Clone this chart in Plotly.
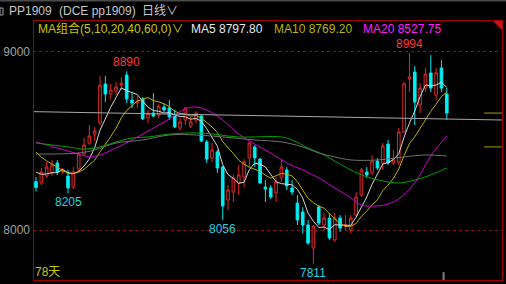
import plotly.graph_objects as go

W, H = 506, 284

# ---------------- data ----------------
opens = [8271, 8264, 8303, 8320, 8376, 8325, 8303, 8241, 8342, 8426,
         8488, 8538, 8600, 8819, 8763, 8780, 8813, 8869, 8729, 8712,
         8735, 8628, 8656, 8645, 8690, 8684, 8639, 8572, 8617, 8583,
         8617, 8639, 8494, 8404, 8438, 8353, 8168, 8213, 8264, 8297,
         8404, 8466, 8398, 8241, 8236, 8208, 8292, 8337, 8236, 8151,
         8101, 8028, 7899, 8129, 8028, 8067, 7944, 8067, 8022, 8000,
         8084, 8196, 8325, 8320, 8387, 8376, 8482, 8376, 8381, 8550,
         8847, 8886, 8701, 8796, 8881, 8757, 8909, 8763]
highs = [8297, 8348, 8381, 8393, 8393, 8348, 8337, 8353, 8438, 8516,
         8589, 8578, 8863, 8863, 8819, 8830, 8858, 8890, 8768, 8752,
         8746, 8673, 8768, 8707, 8712, 8729, 8673, 8628, 8690, 8634,
         8667, 8645, 8505, 8488, 8449, 8359, 8252, 8309, 8364, 8398,
         8494, 8477, 8404, 8280, 8252, 8297, 8393, 8353, 8280, 8196,
         8128, 8056, 8028, 8140, 8095, 8095, 8095, 8084, 8084, 8084,
         8213, 8348, 8353, 8421, 8404, 8488, 8505, 8449, 8572, 8830,
         8994, 8920, 8824, 8909, 8981, 8909, 8953, 8796]
lows = [8215, 8252, 8292, 8303, 8309, 8314, 8205, 8230, 8325, 8415,
        8477, 8499, 8589, 8718, 8735, 8757, 8785, 8712, 8684, 8684,
        8617, 8600, 8634, 8628, 8662, 8617, 8572, 8555, 8589, 8572,
        8600, 8494, 8376, 8381, 8320, 8056, 8112, 8157, 8196, 8241,
        8354, 8354, 8258, 8157, 8174, 8157, 8269, 8224, 8196, 8028,
        7983, 7916, 7811, 8028, 8000, 7944, 7933, 7989, 8000, 7983,
        8073, 8185, 8292, 8309, 8337, 8337, 8365, 8365, 8365, 8544,
        8774, 8589, 8656, 8774, 8774, 8729, 8774, 8617]
closes = [8238, 8325, 8353, 8365, 8325, 8331, 8236, 8325, 8426, 8477,
          8527, 8555, 8813, 8763, 8785, 8802, 8824, 8735, 8712, 8724,
          8623, 8651, 8639, 8695, 8673, 8634, 8578, 8606, 8684, 8606,
          8656, 8499, 8398, 8449, 8348, 8135, 8224, 8292, 8309, 8381,
          8488, 8404, 8264, 8230, 8185, 8269, 8353, 8247, 8213, 8056,
          8028, 7927, 8022, 8039, 8067, 7955, 8067, 8011, 8028, 8067,
          8185, 8337, 8309, 8387, 8348, 8471, 8376, 8393, 8550, 8819,
          8858, 8718, 8796, 8875, 8796, 8881, 8796, 8656]
prior_closes = [8600, 8570, 8540, 8520, 8515, 8390, 8340, 8330, 8327]

ma20_idx = [0, 4, 8, 10, 12, 15, 18, 21, 25, 28, 30, 32, 35, 38, 41, 44, 47, 50,
            53, 56, 59, 61, 64, 66, 68, 71, 74, 77]
ma20_val = [8494, 8460, 8426, 8410, 8421, 8460, 8505, 8555, 8623, 8679, 8690, 8673,
            8617, 8538, 8482, 8432, 8376, 8337, 8292, 8236, 8180, 8140, 8135, 8146,
            8174, 8264, 8415, 8528]
ma40_idx = [0, 6, 9, 12, 15, 18, 21, 25, 31, 38, 46, 48, 51, 54, 58, 61, 65, 68, 71, 74, 77]
ma40_val = [8488, 8466, 8454, 8466, 8494, 8516, 8522, 8538, 8544, 8522, 8522, 8505,
            8460, 8421, 8353, 8309, 8275, 8264, 8280, 8309, 8348]
ma60_idx = [0, 8, 11, 15, 20, 25, 30, 35, 41, 46, 50, 53, 56, 59, 64, 69, 73, 77]
ma60_val = [8426, 8432, 8449, 8488, 8505, 8533, 8533, 8522, 8505, 8494, 8466, 8432,
            8410, 8393, 8393, 8410, 8421, 8415]

trend_x = [-0.56, 87.35]
trend_price = [8664, 8617]
side_marks = [8656, 8466]

title_parts = ["PP1909", "(DCE pp1909)", "日线∨"]
legend_texts = ["MA组合(5,10,20,40,60,0)∨", "MA5 8797.80", "MA10 8769.20", "MA20 8527.75"]
extremes = [("8890", 17, "high"), ("8994", 70, "high"), ("8205", 6, "low"),
            ("8056", 35, "low"), ("7811", 52, "low")]
days_label = "78天"

# ---------------- derived ----------------
n = len(closes)
xs = list(range(n))
allc = prior_closes + closes
off = len(prior_closes)
ma5 = [sum(allc[i + off - 4:i + off + 1]) / 5 for i in range(n)]
ma10 = [sum(allc[i + off - 9:i + off + 1]) / 10 for i in range(n)]

YMIN, YMAX = 7714, 9178
XMIN, XMAX = -0.562, 87.35
FONT = "Liberation Sans, Noto Sans CJK SC, sans-serif"

fig = go.Figure()
fig.add_trace(go.Candlestick(
    x=xs, open=opens, high=highs, low=lows, close=closes,
    increasing=dict(line=dict(color="#e02828", width=1), fillcolor="#000000"),
    decreasing=dict(line=dict(color="#00e8f0", width=1), fillcolor="#00f0f8"),
    whiskerwidth=0, showlegend=False))

fig.add_trace(go.Scatter(x=xs, y=ma5, mode="lines", line=dict(color="#d8d8d8", width=1), showlegend=False))
fig.add_trace(go.Scatter(x=xs, y=ma10, mode="lines", line=dict(color="#b8b400", width=1), showlegend=False))
fig.add_trace(go.Scatter(x=ma20_idx, y=ma20_val, mode="lines", line=dict(color="#d000d0", width=1, shape="spline"), showlegend=False))
fig.add_trace(go.Scatter(x=ma40_idx, y=ma40_val, mode="lines", line=dict(color="#00a000", width=1, shape="spline"), showlegend=False))
fig.add_trace(go.Scatter(x=ma60_idx, y=ma60_val, mode="lines", line=dict(color="#707070", width=1, shape="spline"), showlegend=False))
fig.add_trace(go.Scatter(x=trend_x, y=trend_price, mode="lines", line=dict(color="#a8a8a8", width=1), showlegend=False))

shapes = []
for v in side_marks:
    shapes.append(dict(type="line", xref="x", yref="y", x0=84.0, x1=XMAX, y0=v, y1=v,
                       line=dict(color="#a0a000", width=1)))
shapes.append(dict(type="line", xref="x", yref="y", x0=76.4, x1=76.4, y0=YMIN, y1=7764,
                   line=dict(color="#808080", width=2)))

def px(x):
    return x / W

def py(y):
    return 1 - y / H

red = "#a00000"
shapes += [
    dict(type="line", xref="paper", yref="paper", x0=px(33.5), x1=px(33.5), y0=py(20), y1=py(281), line=dict(color=red, width=1)),
    dict(type="line", xref="paper", yref="paper", x0=px(502.5), x1=px(502.5), y0=py(20), y1=py(281), line=dict(color=red, width=1)),
    dict(type="line", xref="paper", yref="paper", x0=px(33), x1=px(503), y0=py(20.5), y1=py(20.5), line=dict(color=red, width=1)),
    dict(type="line", xref="paper", yref="paper", x0=px(33), x1=px(503), y0=py(280.5), y1=py(280.5), line=dict(color=red, width=1)),
    dict(type="rect", xref="paper", yref="paper", x0=0, x1=1, y0=py(1.5), y1=1, line=dict(width=0), fillcolor="#4a4a4a"),
    dict(type="rect", xref="paper", yref="paper", x0=0, x1=px(3), y0=py(15), y1=py(8), line=dict(color="#a0a0a0", width=1)),
    dict(type="path", xref="paper", yref="paper",
         path=f"M {px(493)},{py(21)} L {px(502)},{py(21)} L {px(502)},{py(30)} Z",
         fillcolor="#d01010", line=dict(width=0)),
]

ann = []
def txt(t, x, y, color, anchor="left", size=12):
    ann.append(dict(text=t, x=px(x), y=py(y), xref="paper", yref="paper", showarrow=False,
                    xanchor=anchor, yanchor="middle", borderpad=0,
                    font=dict(family=FONT, size=size, color=color)))

txt(title_parts[0], 8, 11, "#c8c8c8")
txt(title_parts[1], 58, 11, "#c8c8c8")
txt(title_parts[2], 141, 11, "#c8c8c8")
txt(legend_texts[0], 37, 29, "#c8c800")
txt(legend_texts[1], 190, 29, "#e8e8e8")
txt(legend_texts[2], 273, 29, "#b8b400")
txt(legend_texts[3], 362, 29, "#ff20ff")
txt(days_label, 34, 272, "#c8c800")

for label, idx, kind in extremes:
    if kind == "high":
        ann.append(dict(text=label, x=idx, y=highs[idx], xref="x", yref="y", showarrow=False,
                        yanchor="bottom", yshift=1, borderpad=0,
                        font=dict(family=FONT, size=12, color="#ff3838")))
    else:
        ann.append(dict(text=label, x=idx, y=lows[idx], xref="x", yref="y", showarrow=False,
                        yanchor="top", yshift=-1, borderpad=0,
                        font=dict(family=FONT, size=12, color="#20d0e0")))

fig.update_layout(
    width=W, height=H, margin=dict(l=0, r=0, t=0, b=0),
    paper_bgcolor="#000000", plot_bgcolor="#000000",
    showlegend=False, shapes=shapes, annotations=ann,
    xaxis=dict(domain=[33 / W, 502 / W], range=[XMIN, XMAX], visible=False,
               rangeslider=dict(visible=False), fixedrange=True),
    yaxis=dict(domain=[1 - 281 / H, 1 - 20 / H], range=[YMIN, YMAX],
               tickvals=[8000, 9000], ticktext=["8000", "9000"],
               tickfont=dict(family=FONT, size=12, color="#a0a0a0"),
               showgrid=True, gridcolor="#901010", griddash="dot", gridwidth=1,
               zeroline=False, showline=False, ticks="", ticklabelstandoff=2),
)
fig.write_html("out.html")
